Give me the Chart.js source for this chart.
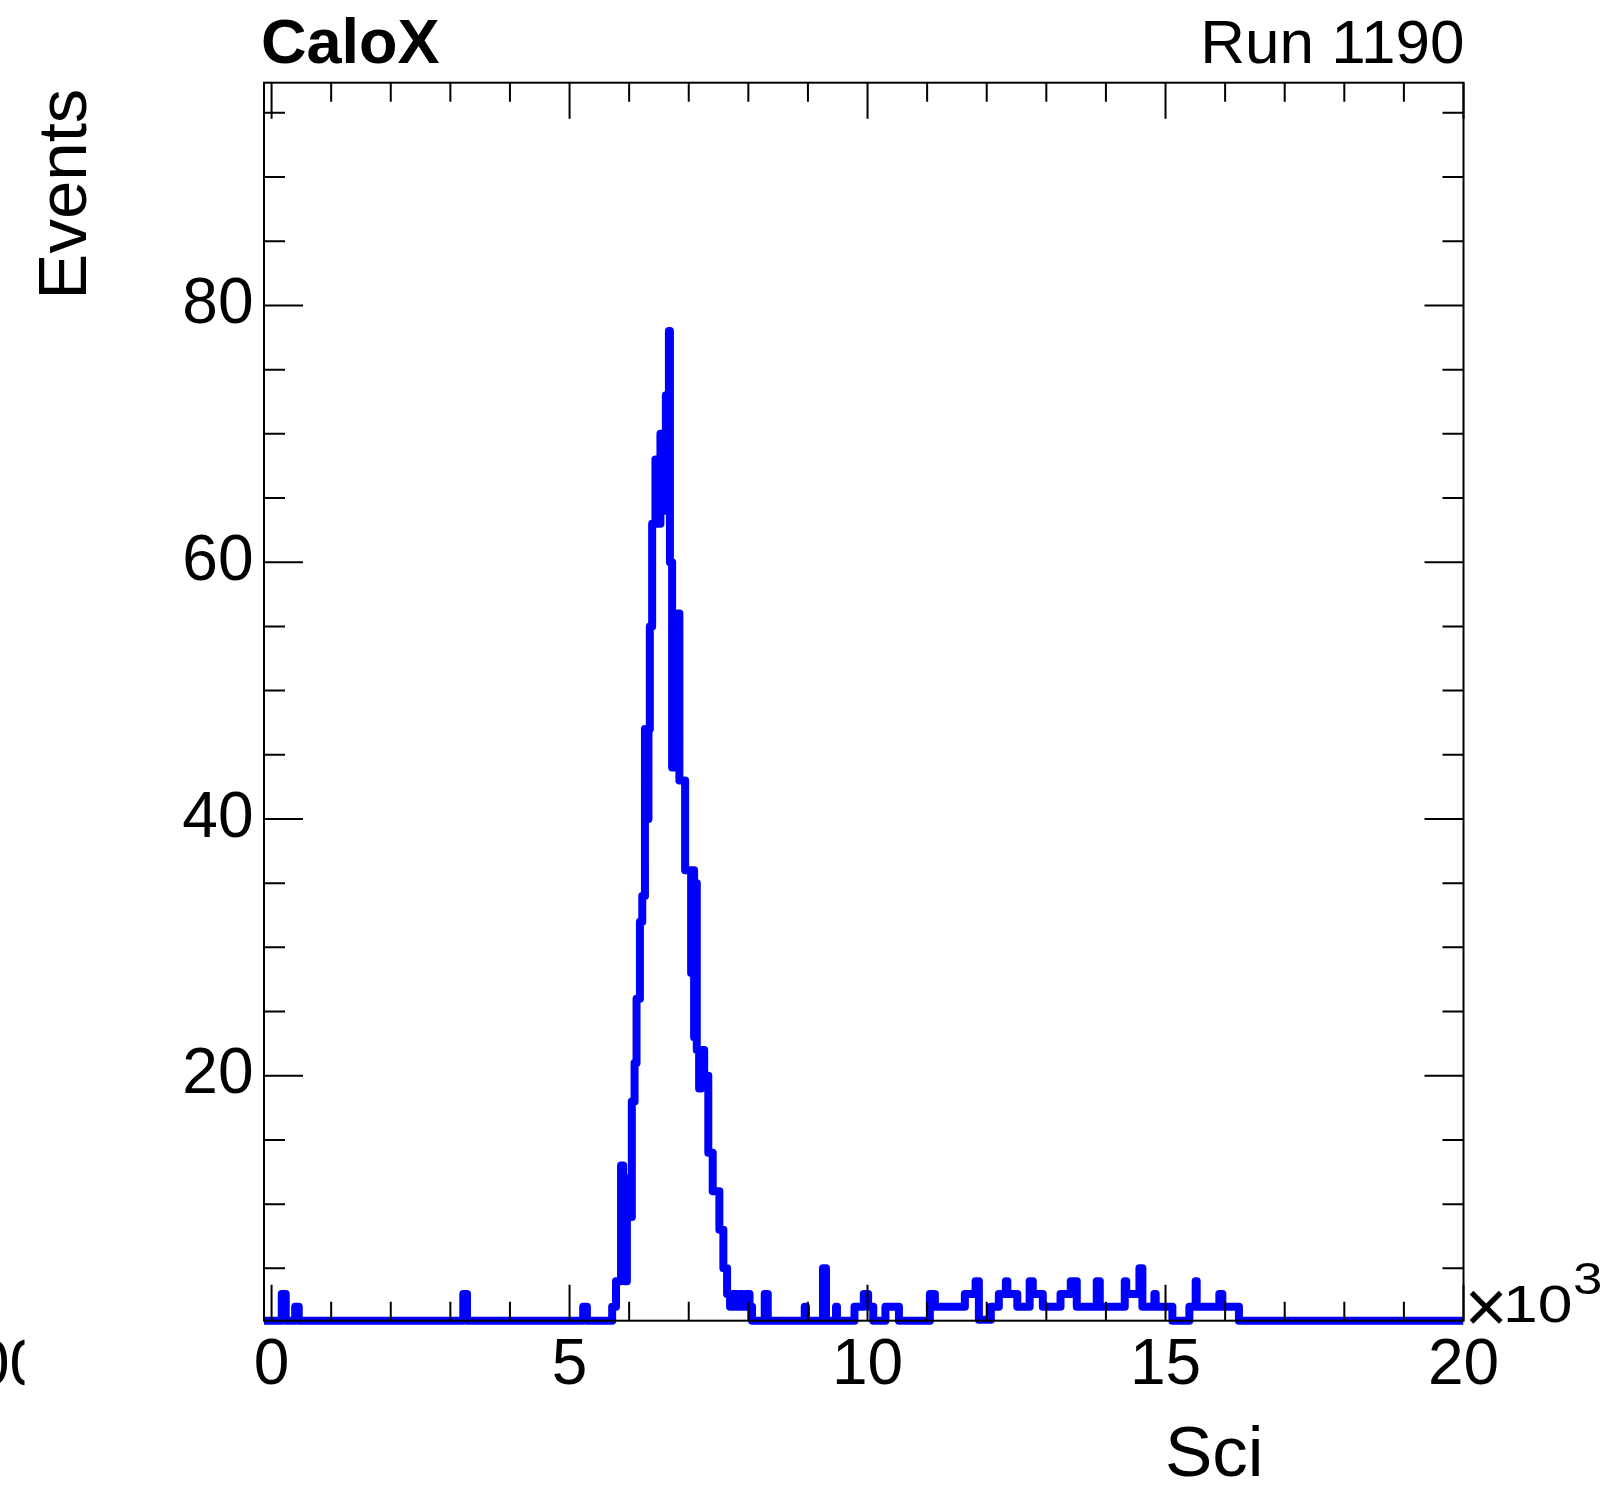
<!DOCTYPE html>
<html>
<head>
<meta charset="utf-8">
<title>CaloX Sci spectrum</title>
<script src="https://cdn.jsdelivr.net/npm/chart.js@4/dist/chart.umd.min.js"></script>
<style>
  html, body { margin: 0; padding: 0; background: #ffffff; }
  canvas { display: block; }
</style>
</head>
<body>
<canvas id="hist" width="1608" height="1490" style="width:1608px;height:1490px"></canvas>
<script>
// Axis ranges (Sci in ADC counts, shown on the axis in units of 10^3)
const X_MIN = -127, X_MAX = 20000;
const Y_MIN = 0.92, Y_MAX = 97.35;

// Histogram outline: low edge of each step (ADC) and its content (events)
const binEdges = [
  -127,
  171, 238,
  396, 456,
  3217, 3279,
  5229, 5291,
  5715, 5779, 5864, 5900, 5925, 5962, 5988, 6045, 6091, 6124, 6181, 6220,
  6265, 6294, 6324, 6347, 6386, 6441, 6475, 6525, 6553, 6616, 6667, 6684,
  6721, 6755, 6788, 6813, 6843, 6939, 7040, 7065, 7090, 7115, 7135, 7174,
  7207, 7259, 7328, 7402, 7514, 7581, 7643, 7693, 7744, 7802, 7853, 7903,
  7962, 8020, 8062,
  8275, 8326,
  8946, 8968,
  9253, 9303,
  9471, 9487,
  9781, 9937, 10010, 10096,
  10300, 10527,
  11046, 11130, 11633, 11813, 11868, 12069, 12203, 12321, 12346, 12513,
  12720, 12773, 12941, 13238, 13410, 13511, 13846, 13897, 14316, 14341,
  14562, 14612, 14813, 14835, 15115, 15400, 15506, 15523, 15903, 15954,
  16232,
  20000
];
const binCounts = [
  0,
  3, 0,
  2, 0,
  3, 0,
  2, 0,
  2, 4, 13, 9, 4, 12, 9, 18, 21, 26, 32, 34,
  47, 40, 47, 55, 63, 68, 63, 70, 64, 73, 78, 60,
  44, 56, 45, 56, 43, 36, 28, 36, 23, 35, 22, 19,
  22, 20, 14, 11, 8, 5, 3, 2, 3, 2, 3, 2,
  3, 2, 0,
  3, 0,
  2, 0,
  5, 0,
  2, 0,
  2, 3, 2, 0,
  2, 0,
  3, 2, 3, 4, 1, 2, 3, 4, 3, 2,
  4, 3, 2, 3, 4, 2, 4, 2, 4, 3,
  5, 2, 3, 2, 0, 2, 4, 2, 3, 2,
  0,
  0
];

// Labelled axis divisions and minor tick spacing
const xLabelTicks = [0, 5000, 10000, 15000, 20000];
const yLabelTicks = [20, 40, 60, 80];
const xMinorStep = 1000;
const yMinorStep = 5;

const FONT = '"Liberation Sans", Arial, Helvetica, sans-serif';
Chart.defaults.font.family = FONT;
Chart.defaults.color = '#000000';

// Empty bins sit on the frame floor, as in a ROOT histogram
const histPoints = binEdges.map((edge, i) => ({ x: edge, y: Math.max(binCounts[i], Y_MIN) }));

// Frame with inward tick marks on all four sides, drawn over the histogram
const rootFrame = {
  id: 'rootFrame',
  afterDatasetsDraw(chart) {
    const { ctx, chartArea: a, scales: { x, y } } = chart;
    ctx.save();
    ctx.strokeStyle = '#000000';
    ctx.lineWidth = 2;
    ctx.beginPath();
    for (let v = 0; v <= X_MAX; v += xMinorStep) {
      const px = x.getPixelForValue(v);
      const len = xLabelTicks.includes(v) ? 36 : 19;
      ctx.moveTo(px, a.bottom); ctx.lineTo(px, a.bottom - len);
      ctx.moveTo(px, a.top); ctx.lineTo(px, a.top + len);
    }
    for (let v = yMinorStep; v < Y_MAX; v += yMinorStep) {
      const py = y.getPixelForValue(v);
      const len = yLabelTicks.includes(v) ? 39 : 21;
      ctx.moveTo(a.left, py); ctx.lineTo(a.left + len, py);
      ctx.moveTo(a.right, py); ctx.lineTo(a.right - len, py);
    }
    ctx.stroke();
    ctx.strokeRect(a.left, a.top, a.right - a.left, a.bottom - a.top);
    ctx.restore();
  }
};

// Titles, axis titles and the axis exponent
const rootText = {
  id: 'rootText',
  afterDraw(chart) {
    const { ctx, chartArea: a } = chart;
    ctx.save();
    ctx.fillStyle = '#000000';
    ctx.textBaseline = 'alphabetic';

    ctx.font = 'bold 63px ' + FONT;
    ctx.textAlign = 'left';
    ctx.fillText('CaloX', a.left - 3, 62.5);

    ctx.font = '62px ' + FONT;
    ctx.textAlign = 'right';
    ctx.fillText('Run 1190', a.right + 1, 63);

    // y title, reading upwards, ending near the top of the frame
    ctx.save();
    ctx.translate(86, a.top + 6);
    ctx.rotate(-Math.PI / 2);
    ctx.font = '69px ' + FONT;
    ctx.textAlign = 'right';
    ctx.fillText('Events', 0, 0);
    ctx.restore();

    ctx.font = '71px ' + FONT;
    ctx.textAlign = 'left';
    ctx.fillText('Sci', 1165, 1475.5);

    // x10^3 exponent at the end of the x axis
    ctx.save();
    ctx.translate(a.right + 1, a.bottom + 11.5);
    ctx.font = '74px ' + FONT;
    ctx.textAlign = 'left';
    ctx.fillText('\u00d7', 0, 0);
    ctx.restore();
    ctx.save();
    ctx.translate(1503, a.bottom + 1.5);
    ctx.scale(1.2, 1);
    ctx.font = '52px ' + FONT;
    ctx.textAlign = 'left';
    ctx.fillText('10', 0, 0);
    ctx.restore();
    ctx.save();
    ctx.translate(1573, 1294);
    ctx.scale(1.2, 1);
    ctx.font = '44px ' + FONT;
    ctx.textAlign = 'left';
    ctx.fillText('3', 0, 0);
    ctx.restore();

    // stray label cut at the left edge of the canvas
    ctx.save();
    ctx.beginPath();
    ctx.rect(0, 1300, 24.5, 120);
    ctx.clip();
    ctx.font = '64px ' + FONT;
    ctx.textAlign = 'left';
    ctx.fillText('00', -26, 1385);
    ctx.restore();

    ctx.restore();
  }
};

new Chart(document.getElementById('hist'), {
  type: 'line',
  data: {
    datasets: [{
      label: 'Sci',
      data: histPoints,
      stepped: 'before',
      borderColor: '#0000ff',
      borderWidth: 8,
      borderJoinStyle: 'round',
      borderCapStyle: 'butt',
      pointRadius: 0,
      pointHoverRadius: 0,
      fill: false,
      tension: 0,
      clip: { left: 0, right: 0, top: 0, bottom: 6 }
    }]
  },
  options: {
    responsive: false,
    maintainAspectRatio: false,
    devicePixelRatio: 1,
    animation: false,
    events: [],
    parsing: false,
    normalized: true,
    layout: { padding: { left: 0, top: 82.7, right: 144.5, bottom: 0 } },
    plugins: {
      legend: { display: false },
      tooltip: { enabled: false },
      title: { display: false }
    },
    scales: {
      x: {
        type: 'linear',
        position: 'bottom',
        min: X_MIN,
        max: X_MAX,
        grid: { display: false, drawTicks: false, tickLength: 0 },
        border: { display: false },
        afterBuildTicks: (s) => { s.ticks = xLabelTicks.map(v => ({ value: v })); },
        afterFit: (s) => { s.height = 1490 - 1320.7; },
        ticks: {
          autoSkip: false,
          maxRotation: 0,
          padding: 7,
          font: { size: 64, family: FONT },
          color: '#000000',
          callback: (v) => String(v / 1000)
        }
      },
      y: {
        type: 'linear',
        position: 'left',
        min: Y_MIN,
        max: Y_MAX,
        grid: { display: false, drawTicks: false, tickLength: 0 },
        border: { display: false },
        afterBuildTicks: (s) => { s.ticks = yLabelTicks.map(v => ({ value: v })); },
        afterFit: (s) => { s.width = 264; },
        ticks: {
          autoSkip: false,
          padding: 10.5,
          font: { size: 64, family: FONT },
          color: '#000000',
          callback: (v) => String(v)
        }
      }
    }
  },
  plugins: [rootFrame, rootText]
});
</script>
</body>
</html>
